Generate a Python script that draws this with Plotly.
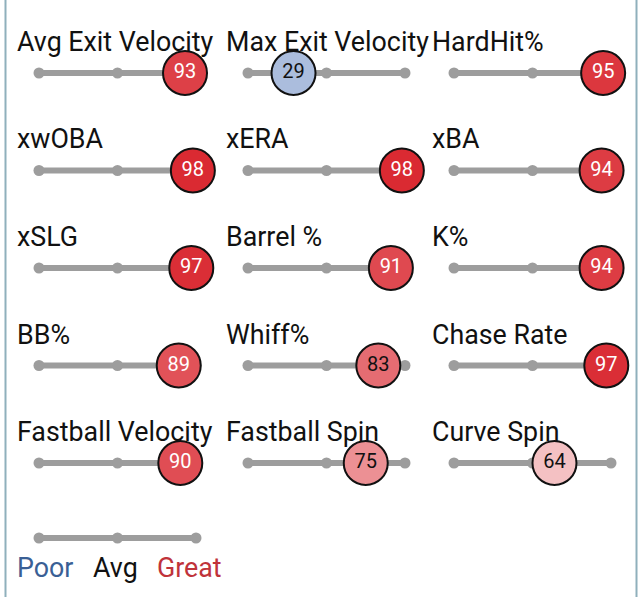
import plotly.graph_objects as go

# ---- data ----
metrics = ["Avg Exit Velocity", "Max Exit Velocity", "HardHit%",
           "xwOBA", "xERA", "xBA",
           "xSLG", "Barrel %", "K%",
           "BB%", "Whiff%", "Chase Rate",
           "Fastball Velocity", "Fastball Spin", "Curve Spin"]
percentiles = [93, 29, 95,
               98, 98, 94,
               97, 91, 94,
               89, 83, 97,
               90, 75, 64]
scale_ticks = [0, 50, 100]
legend_labels = ["Poor", "Avg", "Great"]

# ---- layout constants (pixels) ----
W, H = 641, 597
col_x0 = [39, 248, 454]
line_w = 157
row_y = [73, 170.5, 268, 365.5, 463]
legend_y = 538
GRAY = "#9d9d9d"
FONT = "Roboto"

BLUE = (54, 97, 173)
WHITE = (255, 255, 255)
RED = (216, 33, 41)


def pct_color(p):
    if p >= 50:
        t = (p - 50) / 50
        c = [WHITE[k] + t * (RED[k] - WHITE[k]) for k in range(3)]
    else:
        t = (50 - p) / 50
        c = [WHITE[k] + t * (BLUE[k] - WHITE[k]) for k in range(3)]
    return "rgb(%d,%d,%d)" % tuple(round(v) for v in c)


fig = go.Figure()
layout = {}
annotations = []


def add_axis(idx, x0, yc):
    xa = "xaxis" if idx == 1 else "xaxis%d" % idx
    ya = "yaxis" if idx == 1 else "yaxis%d" % idx
    layout[xa] = dict(domain=[x0 / W, (x0 + line_w) / W], range=[0, 100],
                      visible=False, fixedrange=True, anchor="y%d" % idx if idx > 1 else "y")
    layout[ya] = dict(domain=[(H - yc - 25) / H, (H - yc + 25) / H], range=[-1, 1],
                      visible=False, fixedrange=True, anchor="x%d" % idx if idx > 1 else "x")
    return ("x" if idx == 1 else "x%d" % idx), ("y" if idx == 1 else "y%d" % idx)


def add_scale(xr, yr):
    fig.add_trace(go.Scatter(x=[scale_ticks[0], scale_ticks[-1]], y=[0, 0], mode="lines",
                             line=dict(color=GRAY, width=6), xaxis=xr, yaxis=yr,
                             hoverinfo="skip", showlegend=False, cliponaxis=False))
    fig.add_trace(go.Scatter(x=scale_ticks, y=[0] * len(scale_ticks), mode="markers",
                             marker=dict(color=GRAY, size=11), xaxis=xr, yaxis=yr,
                             hoverinfo="skip", showlegend=False, cliponaxis=False))


for i, (m, p) in enumerate(zip(metrics, percentiles)):
    r, c = divmod(i, 3)
    x0 = col_x0[c]
    yc = row_y[r]
    xr, yr = add_axis(i + 1, x0, yc)
    add_scale(xr, yr)
    txt_col = "white" if (p >= 85 or p <= 15) else "#111111"
    fig.add_trace(go.Scatter(x=[p], y=[0], mode="markers+text", text=[str(p)],
                             textposition="middle center",
                             textfont=dict(family=FONT, size=20, color=txt_col),
                             marker=dict(color=pct_color(p), size=44,
                                         line=dict(color="#111111", width=2)),
                             xaxis=xr, yaxis=yr, showlegend=False, cliponaxis=False))
    annotations.append(dict(text=m, xref="paper", yref="paper",
                            x=(x0 - 24) / W, y=(H - (yc - 31)) / H,
                            xanchor="left", yanchor="middle", showarrow=False,
                            font=dict(family=FONT, size=26.8, color="#111111")))

# legend scale
xr, yr = add_axis(16, col_x0[0], legend_y)
add_scale(xr, yr)
leg_colors = ["#3a5f95", "#111111", "#c0333a"]
leg_x = [45, 115, 189]
for lab, lx, lc in zip(legend_labels, leg_x, leg_colors):
    annotations.append(dict(text=lab, xref="paper", yref="paper",
                            x=lx / W, y=(H - 568) / H, xanchor="center", yanchor="middle",
                            showarrow=False, font=dict(family=FONT, size=26.8, color=lc)))

shapes = [
    dict(type="line", xref="paper", yref="paper", x0=5.5 / W, x1=5.5 / W, y0=0, y1=1,
         line=dict(color="#8fb0bc", width=2)),
    dict(type="line", xref="paper", yref="paper", x0=636.5 / W, x1=636.5 / W, y0=0, y1=1,
         line=dict(color="#8fb0bc", width=2)),
]

fig.update_layout(width=W, height=H, margin=dict(l=0, r=0, t=0, b=0),
                  paper_bgcolor="white", plot_bgcolor="white",
                  annotations=annotations, shapes=shapes, **layout)

fig.write_html("out.html")
